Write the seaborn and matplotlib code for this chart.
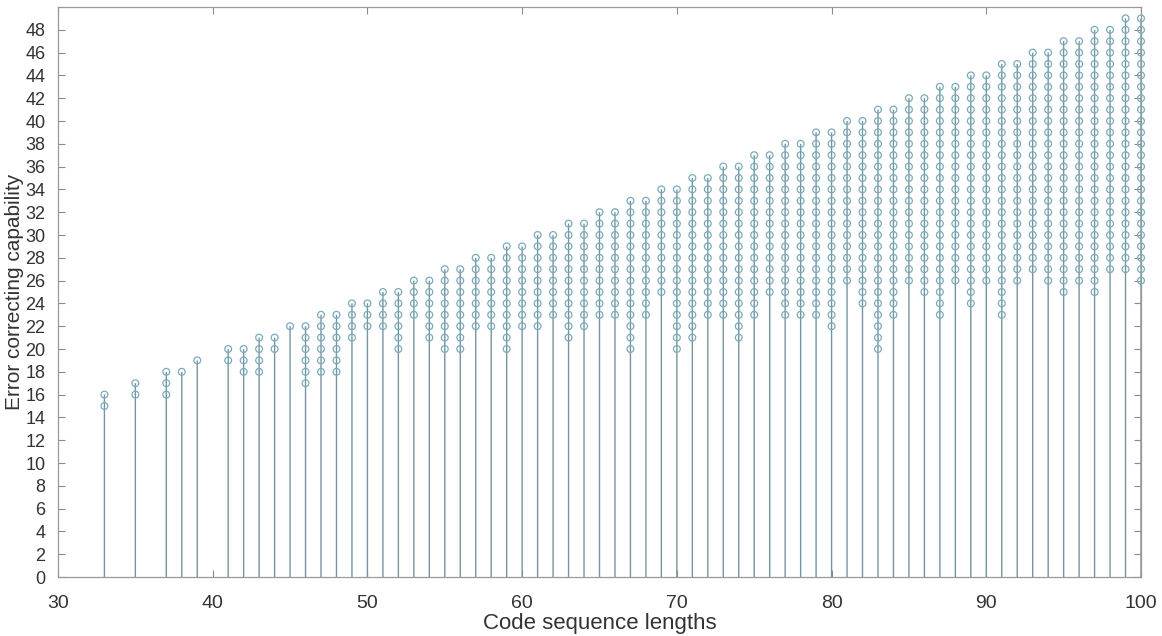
import numpy as np
import pandas as pd
import matplotlib
matplotlib.use("Agg")
import matplotlib.pyplot as plt
import seaborn as sns

# Code lengths n and the range of achievable error-correcting capability t
code_lengths = [33, 35, 37, 38, 39,
                41, 42, 43, 44, 45, 46, 47, 48, 49, 50,
                51, 52, 53, 54, 55, 56, 57, 58, 59, 60,
                61, 62, 63, 64, 65, 66, 67, 68, 69, 70,
                71, 72, 73, 74, 75, 76, 77, 78, 79, 80,
                81, 82, 83, 84, 85, 86, 87, 88, 89, 90,
                91, 92, 93, 94, 95, 96, 97, 98, 99, 100]
t_min = [15, 16, 16, 18, 19,
         19, 18, 18, 20, 22, 17, 18, 18, 21, 22,
         22, 20, 23, 21, 20, 20, 22, 22, 20, 22,
         22, 23, 21, 22, 23, 23, 20, 23, 25, 20,
         21, 23, 23, 21, 23, 25, 23, 23, 23, 22,
         26, 24, 20, 23, 26, 25, 23, 26, 24, 26,
         23, 26, 27, 26, 25, 26, 25, 27, 27, 26]
t_max = [16, 17, 18, 18, 19,
         20, 20, 21, 21, 22, 22, 23, 23, 24, 24,
         25, 25, 26, 26, 27, 27, 28, 28, 29, 29,
         30, 30, 31, 31, 32, 32, 33, 33, 34, 34,
         35, 35, 36, 36, 37, 37, 38, 38, 39, 39,
         40, 40, 41, 41, 42, 42, 43, 43, 44, 44,
         45, 45, 46, 46, 47, 47, 48, 48, 49, 49]

x_ticks = list(range(30, 101, 10))
y_ticks = list(range(0, 49, 2))

# one row per (n, t) pair
rows = [(n, t) for n, lo, hi in zip(code_lengths, t_min, t_max)
        for t in range(lo, hi + 1)]
df = pd.DataFrame(rows, columns=["n", "t"])

sns.set_theme(style="white")
plt.rcParams["font.family"] = ["Liberation Sans", "DejaVu Sans"]

fig = plt.figure(figsize=(11.62, 6.36), dpi=100)
ax = fig.add_axes([58 / 1162, 59 / 636, 1083 / 1162, 570 / 636])

stem_color = "#7595a0"
mark_color = "#7aabbc"

# stems from the baseline to each point of a column
tops = df.groupby("n")["t"].max()
lines = ax.vlines(tops.index, 0, tops.values, colors=stem_color, linewidth=1.0, zorder=2)
lines.set_snap(False)

sns.scatterplot(data=df, x="n", y="t", ax=ax, marker="o", s=24,
                facecolors="none", edgecolor=mark_color, linewidth=0.9,
                zorder=3, clip_on=False, legend=False)

ax.set_xlim(30, 100)
ax.set_ylim(0, 50)
ax.set_xticks(x_ticks)
ax.set_yticks(y_ticks)
ax.tick_params(direction="in", length=5, width=0.8, color="#8a8a8a",
               labelsize=13, labelcolor="#333333",
               top=True, right=True, bottom=True, left=True)
ax.tick_params(axis="x", labelsize=14, pad=13)
ax.tick_params(axis="y", pad=9)
for sp in ax.spines.values():
    sp.set_visible(True)
    sp.set_color("#999999")
    sp.set_linewidth(0.9)

ax.set_xlabel("Code sequence lengths", fontsize=16, color="#333333", labelpad=1)
ax.set_ylabel("Error correcting capability", fontsize=15, color="#333333")
ax.yaxis.set_label_coords(-0.0315, 0.5)

fig.savefig("out.png", dpi=100)
